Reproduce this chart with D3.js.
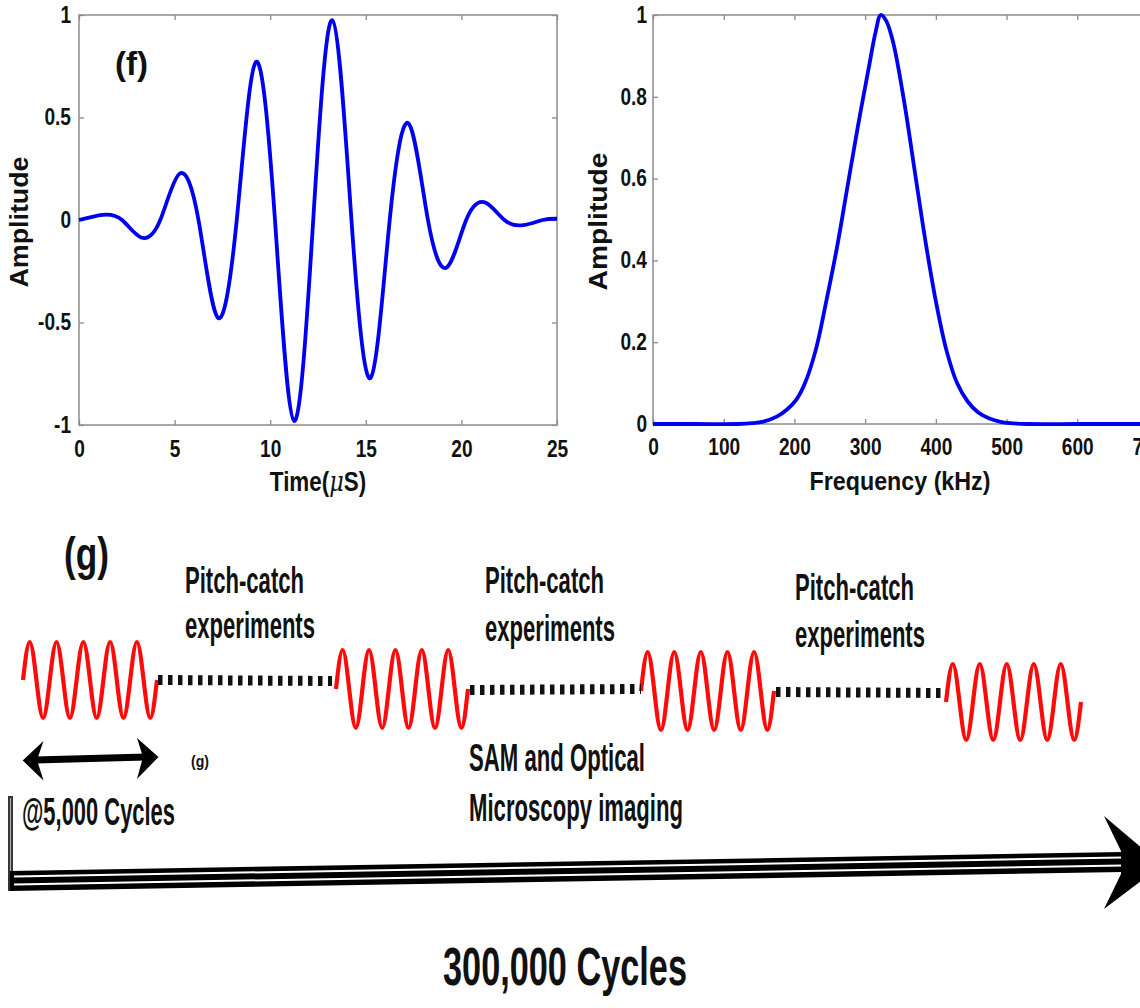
<!DOCTYPE html>
<html><head><meta charset="utf-8">
<script src="https://cdn.jsdelivr.net/npm/d3@7"></script>
<style>
html,body{margin:0;padding:0;background:#fff;overflow:hidden}
svg{display:block}
text{font-family:'Liberation Sans',Arial,Helvetica,sans-serif;font-weight:bold;fill:#111}
</style></head><body>
<svg id="fig" width="1140" height="1008"></svg>
<script>
// ---------------- DATA ----------------
// (f) left: time-domain excitation signal
const timeTicks = [0, 5, 10, 15, 20, 25];
const ampTicks = [-1, -0.5, 0, 0.5, 1];
const timeUs = [0, 1.25, 2.25, 3.25, 4.25, 5.25, 6.25, 7.25, 8.25, 9.25, 10.25, 11.25, 12.25, 13.25, 14.25, 15.25, 16.25, 17.25, 18.25, 19.25, 20.25, 21.25, 22.25, 23.25, 24.25, 25];
const waveAmp = [0, 0.025, 0, -0.085, 0, 0.225, 0, -0.475, 0, 0.77, 0, -0.98, 0, 0.975, 0, -0.77, 0, 0.47, 0, -0.23, 0, 0.085, 0, -0.025, 0, 0.006];

// (f) right: frequency spectrum
const freqTicks = [0, 100, 200, 300, 400, 500, 600, 700];
const specTicks = [0, 0.2, 0.4, 0.6, 0.8, 1];
const freqKHz = [0, 60, 120, 140, 156, 175, 190, 203, 215, 230, 245, 260, 275, 290, 305, 315, 322, 330, 340, 355, 370, 385, 400, 415, 430, 445, 460, 475, 490, 505, 530, 600, 700];
const specAmp = [0, 0, 0, 0.002, 0.006, 0.018, 0.036, 0.06, 0.1, 0.18, 0.3, 0.43, 0.58, 0.73, 0.87, 0.96, 1.0, 0.985, 0.93, 0.79, 0.62, 0.45, 0.3, 0.18, 0.1, 0.055, 0.028, 0.014, 0.006, 0.002, 0, 0, 0];

// (g) schematic
const burstShape = [0, 1, 0, -1, 0, 1, 0, -1, 0, 1, 0, -1, 0, 1, 0, -1, 0, 1, 0, -1, 0];
const pitchLabel = ["Pitch-catch", "experiments"];
const imagingLabel = ["SAM and Optical", "Microscopy imaging"];
const stepLabel = "@5,000 Cycles";
const totalLabel = "300,000 Cycles";
const panelLabels = ["(f)", "(g)"];

// ---------------- HELPERS ----------------
const svg = d3.select('#fig');
const FRAME = '#8c8c8c';

function fit(sel, w) {
  sel.attr('textLength', w).attr('lengthAdjust', 'spacingAndGlyphs');
  return sel;
}
function squeeze(sel, k) {
  sel.each(function () {
    const L = this.getComputedTextLength();
    d3.select(this).attr('textLength', L * k).attr('lengthAdjust', 'spacingAndGlyphs');
  });
}

function drawPlot(o) {
  const g = svg.append('g');
  const x = d3.scaleLinear().domain(o.xDomain).range([o.left, o.right]);
  const y = d3.scaleLinear().domain(o.yDomain).range([o.bottom, o.top]);
  const fmt = d => String(d);

  const styleAxis = (a) => {
    a.select('.domain').remove();
    a.selectAll('.tick line').attr('stroke', FRAME).attr('stroke-width', 1.3);
    a.selectAll('.tick text').attr('font-size', 23).attr('fill', '#151515')
      .attr('font-family', "'Liberation Sans',Arial,sans-serif").attr('font-weight', 'bold');
  };

  const bx = g.append('g').attr('transform', `translate(0,${o.bottom})`)
    .call(d3.axisBottom(x).tickValues(o.xTicks).tickFormat(fmt).tickSizeInner(-5).tickSizeOuter(0).tickPadding(o.xPad));
  styleAxis(bx); squeeze(bx.selectAll('.tick text'), 0.83);
  const tx = g.append('g').attr('transform', `translate(0,${o.top})`)
    .call(d3.axisTop(x).tickValues(o.xTicks).tickFormat('').tickSizeInner(-5).tickSizeOuter(0));
  styleAxis(tx);
  const ly = g.append('g').attr('transform', `translate(${o.left},0)`)
    .call(d3.axisLeft(y).tickValues(o.yTicks).tickFormat(fmt).tickSizeInner(-5).tickSizeOuter(0).tickPadding(o.yPad));
  styleAxis(ly); squeeze(ly.selectAll('.tick text'), 0.83);
  const ry = g.append('g').attr('transform', `translate(${o.right},0)`)
    .call(d3.axisRight(y).tickValues(o.yTicks).tickFormat('').tickSizeInner(-5).tickSizeOuter(0));
  styleAxis(ry);

  g.append('rect').attr('x', o.left).attr('y', o.top)
    .attr('width', o.right - o.left).attr('height', o.bottom - o.top)
    .attr('fill', 'none').attr('stroke', FRAME).attr('stroke-width', 1.5);

  const line = d3.line().x((d, i) => x(o.xs[i])).y(d => y(d)).curve(o.curve);
  g.append('path').datum(o.ys).attr('d', line)
    .attr('fill', 'none').attr('stroke', '#0000f0').attr('stroke-width', 3.8)
    .attr('stroke-linejoin', 'round');

  // y title
  fit(g.append('text').attr('transform', `translate(${o.yTitleX},${(o.top + o.bottom) / 2 + 2}) rotate(-90)`)
    .attr('text-anchor', 'middle').attr('font-size', 25).text('Amplitude'), o.yTitleW);
  return { g, x, y };
}

// ---------------- (f) LEFT ----------------
const p1 = drawPlot({
  left: 79, right: 557, top: 15, bottom: 425,
  xDomain: [0, 25], yDomain: [-1, 1], xTicks: timeTicks, yTicks: ampTicks,
  xPad: 16, yPad: 8, xs: timeUs, ys: waveAmp, curve: d3.curveNatural,
  yTitleX: 28, yTitleW: 131
});
{
  const t = p1.g.append('text').attr('transform', 'translate(318,491) scale(0.83,1)')
    .attr('text-anchor', 'middle').attr('font-size', 27);
  t.append('tspan').text('Time(');
  t.append('tspan').attr('font-style', 'italic').attr('font-family', "'DejaVu Serif',serif").attr('font-weight', 'normal').text('\u03bc');
  t.append('tspan').text('S)');
  fit(p1.g.append('text').attr('x', 115).attr('y', 75).attr('font-size', 34).text(panelLabels[0]), 33);
}

// ---------------- (f) RIGHT ----------------
const p2 = drawPlot({
  left: 653, right: 1148, top: 15, bottom: 424,
  xDomain: [0, 700], yDomain: [0, 1], xTicks: freqTicks, yTicks: specTicks,
  xPad: 15, yPad: 6, xs: freqKHz, ys: specAmp, curve: d3.curveCatmullRom.alpha(0.5),
  yTitleX: 607, yTitleW: 138
});
fit(p2.g.append('text').attr('x', 900).attr('y', 490).attr('text-anchor', 'middle').attr('font-size', 26).text('Frequency (kHz)'), 181);

// ---------------- (g) SCHEMATIC ----------------
const gs = svg.append('g');
const NARROW = "'Liberation Sans Narrow','Liberation Sans',Arial,sans-serif";

// panel label
fit(gs.append('text').attr('x', 64).attr('y', 570).attr('font-size', 46)
  .attr('font-family', "Lato,'Open Sans',sans-serif").attr('font-weight', 900).text(panelLabels[1]), 45);

// tone bursts (layout)
const bursts = [
  { x0: 23, x1: 157, cy: 680, a: 38 },
  { x0: 336, x1: 468, cy: 689, a: 39 },
  { x0: 641, x1: 774, cy: 691, a: 39 },
  { x0: 946, x1: 1081, cy: 702, a: 38 }
];
bursts.forEach(b => {
  const bx = d3.scaleLinear().domain([0, burstShape.length - 1]).range([b.x0, b.x1]);
  const by = d3.scaleLinear().domain([-1, 1]).range([b.cy + b.a, b.cy - b.a]);
  gs.append('path').datum(burstShape)
    .attr('d', d3.line().x((d, i) => bx(i)).y(d => by(d)).curve(d3.curveNatural))
    .attr('fill', 'none').attr('stroke', '#ff0a0a').attr('stroke-width', 4.2);
});

// dotted connectors
const links = [
  { x0: 158, x1: 332, y0: 680, y1: 681 },
  { x0: 470, x1: 641, y0: 690, y1: 689 },
  { x0: 776, x1: 946, y0: 692, y1: 693 }
];
links.forEach(l => {
  gs.append('line').attr('x1', l.x0).attr('y1', l.y0).attr('x2', l.x1).attr('y2', l.y1)
    .attr('stroke', '#111').attr('stroke-width', 10).attr('stroke-dasharray', '4.5,5.5');
});

// text labels
function label(txt, x, y, fs, w) {
  return fit(gs.append('text').attr('x', x).attr('y', y).attr('font-size', fs)
    .attr('font-family', NARROW).text(txt), w);
}
const pitchPos = [[185, 593, 638], [485, 593, 641], [795, 600, 647]];
pitchPos.forEach(p => {
  label(pitchLabel[0], p[0], p[1], 37, 119);
  label(pitchLabel[1], p[0], p[2], 37, 130);
});
label(imagingLabel[0], 469, 771, 38, 176);
label(imagingLabel[1], 469, 821, 38, 214);
label(stepLabel, 22, 825, 38, 153);
label(totalLabel, 443, 985, 53, 244);
fit(gs.append('text').attr('x', 191).attr('y', 767).attr('font-size', 17)
  .attr('font-family', NARROW).text(panelLabels[1]), 18);

// double-headed arrow (one step)
gs.append('line').attr('x1', 35).attr('y1', 760).attr('x2', 146).attr('y2', 757)
  .attr('stroke', '#000').attr('stroke-width', 7);
gs.append('path').attr('d', 'M22.7,760.5 L43.5,741 L37,760 L43.5,780.5 Z').attr('fill', '#000');
gs.append('path').attr('d', 'M158.5,757 L137,738 L143,757 L137,779 Z').attr('fill', '#000');

// long timeline arrow
const shaft = { x0: 10, y0: 881, x1: 1123, y1: 862 };
gs.append('line').attr('x1', 10.5).attr('y1', 796).attr('x2', 10.5).attr('y2', 891)
  .attr('stroke', '#333').attr('stroke-width', 5);
gs.append('line').attr('x1', 10.5).attr('y1', 798).attr('x2', 10.5).attr('y2', 876)
  .attr('stroke', '#aaa').attr('stroke-width', 1.2);
gs.append('line').attr('x1', shaft.x0).attr('y1', shaft.y0).attr('x2', shaft.x1).attr('y2', shaft.y1)
  .attr('stroke', '#000').attr('stroke-width', 20);
[-4.5, 3.5].forEach(off => {
  gs.append('line').attr('x1', shaft.x0 + 4).attr('y1', shaft.y0 + off).attr('x2', shaft.x1).attr('y2', shaft.y1 + off)
    .attr('stroke', '#fff').attr('stroke-width', 2);
});
gs.append('path').attr('d', 'M1104,816 L1162,865 L1104,909 L1121,874 L1121,851 Z').attr('fill', '#000');
</script>
</body></html>
